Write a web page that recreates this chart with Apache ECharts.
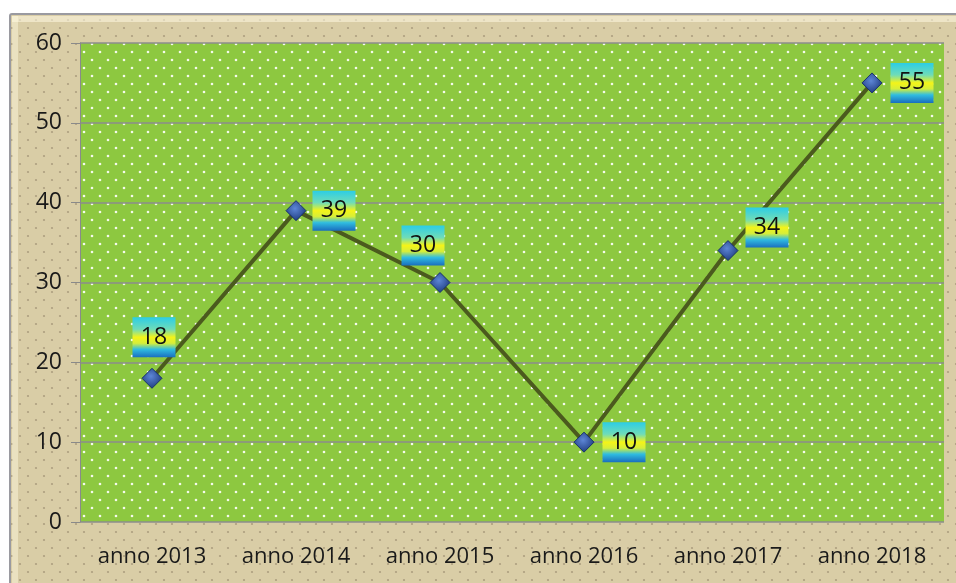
<!DOCTYPE html>
<html>
<head>
<meta charset="utf-8">
<script src="https://cdn.jsdelivr.net/npm/echarts@6/dist/echarts.min.js"></script>
<style>
html,body{margin:0;padding:0;background:#fff;}
#chart{width:956px;height:583px;}
</style>
</head>
<body>
<div id="chart"></div>
<script>
var categories = ['anno 2013', 'anno 2014', 'anno 2015', 'anno 2016', 'anno 2017', 'anno 2018'];
var values = [18, 39, 30, 10, 34, 55];
var yTicks = [0, 10, 20, 30, 40, 50, 60];
// label box offsets from each point (style only)
var labelOffsets = [[2, -41], [38, 0], [-17, -37], [40, 0], [39, -23], [40, 0]];

function dotPattern(bg, dot, w, h, r) {
	var c = document.createElement('canvas');
	c.width = w; c.height = h;
	var ctx = c.getContext('2d');
	ctx.fillStyle = bg;
	ctx.fillRect(0, 0, w, h);
	ctx.fillStyle = dot;
	ctx.beginPath(); ctx.arc(w / 4, h / 4, r, 0, Math.PI * 2); ctx.fill();
	ctx.beginPath(); ctx.arc(w * 3 / 4, h * 3 / 4, r, 0, Math.PI * 2); ctx.fill();
	return c;
}

var greenPat = dotPattern('#8dc840', 'rgba(255,255,255,0.9)', 16, 16, 1.3);
var beigePat = dotPattern('#d9cda6', '#ad9f80', 16, 16, 1.1);

var labelGrad = new echarts.graphic.LinearGradient(0, 0, 0, 1, [
	{offset: 0, color: '#2bcde6'},
	{offset: 0.3, color: '#6fdcb8'},
	{offset: 0.5, color: '#f4f418'},
	{offset: 0.65, color: '#d6ee3a'},
	{offset: 0.8, color: '#30bde0'},
	{offset: 1, color: '#1a6ebf'}
]);

var chart = echarts.init(document.getElementById('chart'));

var seriesData = [];
for (var i = 0; i < values.length; i++) {
	seriesData.push({
		value: values[i],
		label: {offset: labelOffsets[i]}
	});
}

var option = {
	backgroundColor: '#ffffff',
	animation: false,
	graphic: [
		{
			type: 'rect',
			z: -10,
			shape: {x: 10, y: 14, width: 960, height: 590, r: 2},
			style: {fill: {image: beigePat, repeat: 'repeat'}, stroke: '#9a9aa0', lineWidth: 2},
			silent: true
		},
		{
			type: 'rect',
			z: -9,
			shape: {x: 12, y: 16, width: 960, height: 6},
			style: {fill: 'rgba(255,250,225,0.55)'},
			silent: true
		},
		{
			type: 'rect',
			z: -9,
			shape: {x: 12, y: 16, width: 6, height: 590},
			style: {fill: 'rgba(255,250,225,0.45)'},
			silent: true
		}
	],
	grid: {
		left: 80,
		right: 12,
		top: 43,
		bottom: 61,
		show: true,
		backgroundColor: {image: greenPat, repeat: 'repeat'},
		borderWidth: 0
	},
	xAxis: {
		type: 'category',
		data: categories,
		boundaryGap: true,
		axisLine: {show: false},
		axisTick: {show: false},
		axisLabel: {
			interval: 0,
			color: '#1a1a1a',
			fontFamily: 'Open Sans',
			fontSize: 22,
			margin: 24
		}
	},
	yAxis: {
		type: 'value',
		min: yTicks[0],
		max: yTicks[yTicks.length - 1],
		interval: 10,
		axisLine: {show: true, lineStyle: {color: '#8a8a8a', width: 1}},
		axisTick: {show: true, length: 9, lineStyle: {color: '#8a8a8a'}},
		axisLabel: {
			color: '#1a1a1a',
			fontFamily: 'Open Sans',
			fontSize: 23,
			margin: 18
		},
		splitLine: {show: true, lineStyle: {color: '#8c8c8c', width: 1.5}}
	},
	series: [{
		type: 'line',
		data: seriesData,
		symbol: 'diamond',
		symbolSize: 20,
		lineStyle: {color: '#4b5a1e', width: 4},
		itemStyle: {
			color: new echarts.graphic.RadialGradient(0.45, 0.4, 0.6, [
				{offset: 0, color: '#5d86d6'},
				{offset: 1, color: '#1f3c80'}
			]),
			borderColor: '#17306a',
			borderWidth: 1
		},
		label: {
			show: true,
			position: 'inside',
			color: '#111',
			fontFamily: 'Open Sans',
			fontSize: 23,
			width: 43,
			height: 40,
			lineHeight: 40,
			align: 'center',
			verticalAlign: 'middle',
			backgroundColor: labelGrad
		},
		z: 3
	}]
};

chart.setOption(option);
</script>
</body>
</html>
